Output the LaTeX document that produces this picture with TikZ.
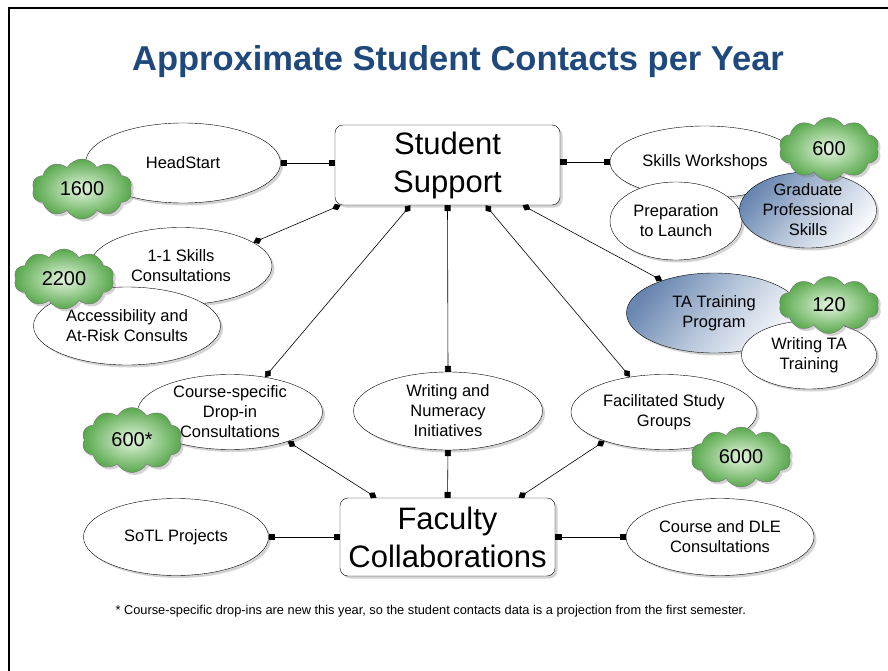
\documentclass[tikz,border=0pt]{standalone}
\usepackage{fontspec}
\setmainfont{Liberation Sans}
\usetikzlibrary{arrows.meta, shapes.geometric, shapes.symbols, shadows}

\definecolor{titleblue}{RGB}{31,73,125}
\definecolor{cloudgreen}{RGB}{88,168,76}
\definecolor{cloudlight}{RGB}{228,245,222}
\definecolor{gradblue}{RGB}{104,134,176}
\definecolor{gradlight}{RGB}{248,250,253}

\begin{document}
\begin{tikzpicture}[
  x=1pt, y=-1pt,
  softshadow/.style={drop shadow={shadow xshift=2.5pt, shadow yshift=-2.5pt, opacity=0.35}},
  hub/.style={rectangle, rounded corners=8pt, draw, fill=white, minimum width=225pt,
    minimum height=80pt, inner sep=0pt, align=center, font=\fontsize{31}{38}\selectfont, softshadow},
  bubble/.style={ellipse, draw, fill=white, inner sep=0pt, softshadow},
  inside/.style={align=center, font=\fontsize{16.5}{20}\selectfont},
  bluebubble/.style={bubble, top color=gradblue, bottom color=gradlight, middle color=gradblue!45!gradlight, shading angle=50},
  tally/.style={cloud, cloud puffs=10, cloud puff arc=120, cloud ignores aspect, draw=black!55,
    inner color=cloudlight, outer color=cloudgreen, minimum width=100pt, minimum height=60pt,
    inner sep=0pt, font=\fontsize{20}{24}\selectfont, softshadow},
  sqlink/.style={line width=0.6pt, {Square[length=6pt, width=6pt]}-{Square[length=6pt, width=6pt]}},
  dmlink/.style={line width=0.6pt, {Diamond[length=9pt, width=7pt]}-{Diamond[length=9pt, width=7pt]}}
]
\useasboundingbox (0,0) rectangle (888,671);
\draw[line width=2.5pt] (9,671) -- (9,8) -- (888,8);

\node[anchor=base, text=titleblue, font=\bfseries\fontsize{34.5}{40}\selectfont] (title) at (458,71)
  {Approximate Student Contacts per Year};

\node[hub] (ss) at (447.5,165) {Student\\Support};
\node[hub, minimum width=215pt, minimum height=78pt] (fc) at (447.5,537) {Faculty\\Collaborations};

% left side
\node[bubble, minimum width=195pt, minimum height=80pt, label={[inside]center:HeadStart}] (hs) at (183,163) {};
\node[tally] (c1600) at (82,189) {1600};
\node[bubble, minimum width=182pt, minimum height=77pt, label={[inside]center:1-1 Skills\\Consultations}] (skills) at (181,266) {};
\node[bubble, minimum width=187pt, minimum height=78pt, label={[inside]center:Accessibility and\\At-Risk Consults}] (access) at (127,326) {};
\node[tally] (c2200) at (64,279) {2200};

% right side
\node[bubble, minimum width=190pt, minimum height=72pt, label={[inside]center:Skills Workshops}] (sw) at (705,162) {};
\node[bubble, minimum width=132pt, minimum height=78pt, label={[inside]center:Preparation\\to Launch}] (prep) at (676,221) {};
\node[bluebubble, minimum width=137pt, minimum height=76pt, label={[inside]center:Graduate\\Professional\\Skills}] (gps) at (808,210) {};
\node[tally, minimum height=63pt] (c600) at (829,149) {600};
\node[bluebubble, minimum width=175pt, minimum height=80pt, label={[inside]center:TA Training\\Program}] (ta) at (714,313) {};
\node[bubble, minimum width=135pt, minimum height=68pt, label={[inside]center:Writing TA\\Training}] (wta) at (809,355) {};
\node[tally, minimum height=57pt] (c120) at (829,305) {120};

% middle row
\node[bubble, minimum width=185pt, minimum height=75pt, label={[inside]center:Course-specific\\Drop-in\\Consultations}] (cs) at (230,412) {};
\node[tally, minimum height=65pt] (c600s) at (132,440) {600*};
\node[bubble, minimum width=189pt, minimum height=78pt, label={[inside]center:Writing and\\Numeracy\\Initiatives}] (wn) at (448,411) {};
\node[bubble, minimum width=186pt, minimum height=75pt, label={[inside]center:Facilitated Study\\Groups}] (fsg) at (664,412) {};
\node[tally] (c6000) at (741,457) {6000};

% bottom row
\node[bubble, minimum width=185pt, minimum height=77pt, label={[inside]center:SoTL Projects}] (sotl) at (176,537) {};
\node[bubble, minimum width=188pt, minimum height=77pt, label={[inside]center:Course and DLE\\Consultations}] (dle) at (720,537) {};

\draw[sqlink] (hs.east) -- (hs.east -| ss.west);
\draw[sqlink] (sw.west -| ss.east) -- (sw.west);
\draw[dmlink] ([xshift=-107pt]ss.south) -- (skills.18);
\draw[dmlink] ([xshift=-37pt]ss.south) -- (cs.45);
\draw[sqlink] (ss.south) -- (wn.north);
\draw[dmlink] ([xshift=38pt]ss.south) -- (fsg.134);
\draw[dmlink] ([xshift=75pt]ss.south) -- (ta.148);

\draw[dmlink] (cs.-27) -- ([xshift=-71pt]fc.north);
\draw[sqlink] (wn.south) -- (fc.north);
\draw[dmlink] (fsg.206) -- ([xshift=71pt]fc.north);
\draw[sqlink] (sotl.east) -- (fc.west);
\draw[sqlink] (fc.east) -- (dle.west);

\node[anchor=base west, font=\fontsize{12.8}{15}\selectfont] (note) at (112,614)
  {* Course-specific drop-ins are new this year, so the student contacts data is a projection from the first semester.};
\end{tikzpicture}
\end{document}
